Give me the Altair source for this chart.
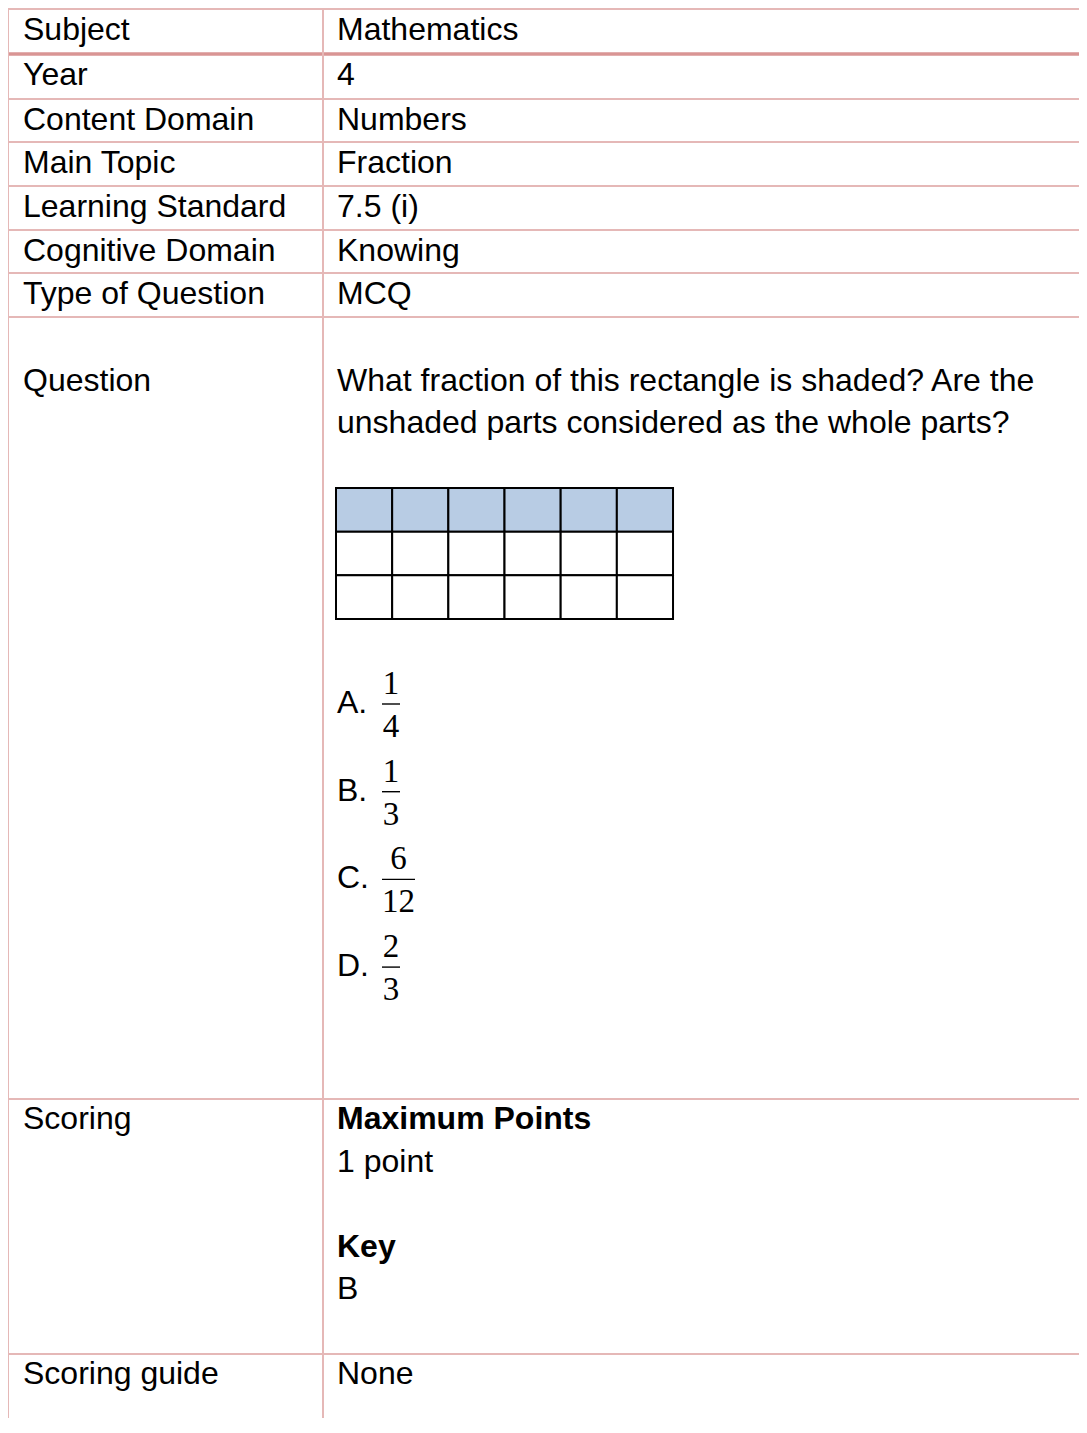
import altair as alt
import pandas as pd

# ---------------- data ----------------
labels = ["Subject", "Year", "Content Domain", "Main Topic", "Learning Standard",
          "Cognitive Domain", "Type of Question", "Question", "Scoring", "Scoring guide"]
values = ["Mathematics", "4", "Numbers", "Fraction", "7.5 (i)", "Knowing", "MCQ"]
question_lines = ["What fraction of this rectangle is shaded? Are the",
                  "unshaded parts considered as the whole parts?"]
option_letters = ["A.", "B.", "C.", "D."]
numerators = ["1", "1", "6", "2"]
denominators = ["4", "3", "12", "3"]
grid_rows = 3
grid_cols = 6
shaded_rows = [0]
scoring_lines = ["Maximum Points", "1 point", "", "Key", "B"]
scoring_bold = [True, False, False, True, False]
scoring_guide = "None"

# ---------------- layout ----------------
W, H = 1071, 1410
X0, Y0 = 8, 8
row_tops = [9, 54, 99, 142, 186, 230, 273, 317, 1099, 1354]
thick_row = 1
col_left, col_div, col_right = 8, 323, X0 + W
lab_x, val_x = 23, 337
base_off = 31
line_h = 42.5
grid_left, grid_top, cell_w, cell_h = 336, 488, 56.17, 43.67
opt_first, opt_step = 713, 87.7
bar_x = 382
thin_c, thick_c = "#e5b8b7", "#d99594"
FS = 32
SANS = "Liberation Sans, Arial, sans-serif"
SERIF = "Liberation Serif, Times New Roman, serif"

xs = alt.Scale(domain=[X0, X0 + W], nice=False, zero=False)
ys = alt.Scale(domain=[Y0, Y0 + H], nice=False, zero=False, reverse=True)

# table lines
lines = []
for i, t in enumerate(row_tops):
    lines.append(dict(x=col_left, x2=col_right, y=t, y2=t,
                      c=thick_c if i == thick_row else thin_c,
                      w=3.5 if i == thick_row else 2))
for vx in (col_left, col_div):
    lines.append(dict(x=vx, x2=vx, y=row_tops[0], y2=Y0 + H, c=thin_c, w=2))
lines_df = pd.DataFrame(lines)

rules = alt.Chart(lines_df).mark_rule().encode(
    x=alt.X("x:Q", scale=xs, axis=None), x2="x2",
    y=alt.Y("y:Q", scale=ys, axis=None), y2="y2",
    color=alt.Color("c:N", scale=None),
    strokeWidth=alt.StrokeWidth("w:Q", scale=None),
)

# shaded grid
cells = []
for r in range(grid_rows):
    for c in range(grid_cols):
        cells.append(dict(x=grid_left + c * cell_w, x2=grid_left + (c + 1) * cell_w,
                          y=grid_top + r * cell_h, y2=grid_top + (r + 1) * cell_h,
                          f="#b8cce4" if r in shaded_rows else "#ffffff"))
grid = alt.Chart(pd.DataFrame(cells)).mark_rect(stroke="black", strokeWidth=2).encode(
    x=alt.X("x:Q", scale=xs, axis=None), x2="x2",
    y=alt.Y("y:Q", scale=ys, axis=None), y2="y2",
    fill=alt.Fill("f:N", scale=None),
)

# normal sans text
normal = []
for i, lab in enumerate(labels):
    if lab == "Question":
        yb = row_tops[i] + base_off + line_h
    elif i >= 8:
        yb = row_tops[i] + base_off - 1
    else:
        yb = row_tops[i] + base_off
    normal.append(dict(x=lab_x, y=yb, t=lab))
for i, v in enumerate(values):
    normal.append(dict(x=val_x, y=row_tops[i] + base_off, t=v))
for k, q in enumerate(question_lines):
    normal.append(dict(x=val_x, y=row_tops[7] + base_off + line_h * (k + 1), t=q))
for k, l in enumerate(option_letters):
    normal.append(dict(x=val_x, y=opt_first + k * opt_step, t=l))
bold = []
for k, (s, b) in enumerate(zip(scoring_lines, scoring_bold)):
    if not s:
        continue
    d = dict(x=val_x, y=row_tops[8] + base_off - 1 + k * line_h, t=s)
    (bold if b else normal).append(d)
normal.append(dict(x=val_x, y=row_tops[9] + base_off - 1, t=scoring_guide))

def text_layer(rows, **kw):
    return alt.Chart(pd.DataFrame(rows)).mark_text(
        align="left", baseline="alphabetic", font=SANS, fontSize=FS, color="black", **kw
    ).encode(
        x=alt.X("x:Q", scale=xs, axis=None),
        y=alt.Y("y:Q", scale=ys, axis=None),
        text="t:N",
    )

normal_txt = text_layer(normal)
bold_txt = text_layer(bold, fontWeight="bold")

# fractions
frac_txt, bars = [], []
for k, (n, d) in enumerate(zip(numerators, denominators)):
    base = opt_first + k * opt_step
    bar_y = base - 9
    w = 15 * max(len(n), len(d)) + 3
    cx = bar_x + w / 2
    bars.append(dict(x=bar_x, x2=bar_x + w, y=bar_y, y2=bar_y))
    frac_txt.append(dict(x=cx, y=bar_y - 10, t=n))
    frac_txt.append(dict(x=cx, y=bar_y + 33, t=d))

bar_rules = alt.Chart(pd.DataFrame(bars)).mark_rule(color="black", strokeWidth=1.4).encode(
    x=alt.X("x:Q", scale=xs, axis=None), x2="x2",
    y=alt.Y("y:Q", scale=ys, axis=None), y2="y2",
)
frac_layer = alt.Chart(pd.DataFrame(frac_txt)).mark_text(
    align="center", baseline="alphabetic", font=SERIF, fontSize=33, color="black"
).encode(
    x=alt.X("x:Q", scale=xs, axis=None),
    y=alt.Y("y:Q", scale=ys, axis=None),
    text="t:N",
)

chart = alt.layer(rules, grid, normal_txt, bold_txt, bar_rules, frac_layer).properties(
    width=W, height=H, padding=0,
    autosize=alt.AutoSizeParams(type="none"),
).configure_view(stroke=None).configure(background="white")

chart.save("out.html", embed_options={"renderer": "svg", "actions": False})
